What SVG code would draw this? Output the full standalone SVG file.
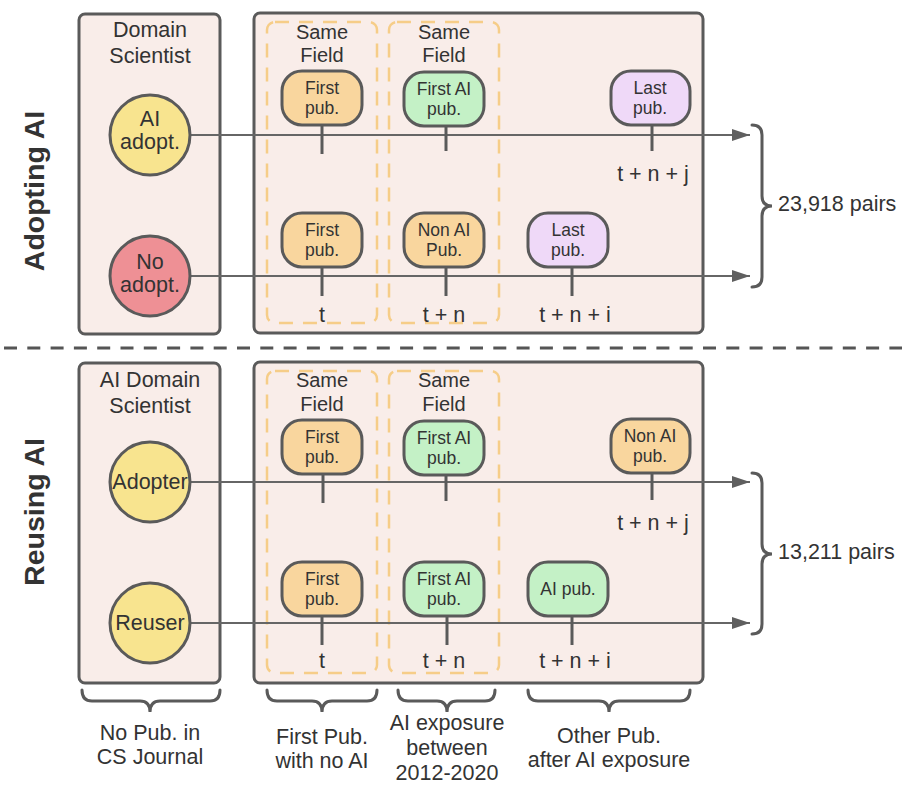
<svg xmlns="http://www.w3.org/2000/svg" width="902" height="786" viewBox="0 0 902 786">
<defs>
<style>
text{font-family:"Liberation Sans",Arial,sans-serif;fill:#333;text-anchor:middle}
.panel{fill:#f9ede9;stroke:#5a5a5a;stroke-width:3}
.dbox{fill:none;stroke:#f6cd88;stroke-width:2.5;stroke-dasharray:14 10}
.circ{stroke:#5a5a5a;stroke-width:3}
.node{stroke:#5a5a5a;stroke-width:3}
.orange{fill:#f9d69e}
.green{fill:#c4f1c6}
.purple{fill:#efd9f8}
.yellow{fill:#f8e48f}
.red{fill:#ee9095}
.t22{font-size:21.5px}
.t20{font-size:20px}
.t17{font-size:17.5px}
.side{font-size:28.5px;font-weight:bold;fill:#333}
.conn{stroke:#666;stroke-width:2;fill:none}
.stem{stroke:#5a5a5a;stroke-width:3}
.brace{stroke:#5a5a5a;stroke-width:3;fill:none;stroke-linecap:round}
</style>
<marker id="ah" markerWidth="18" markerHeight="12" refX="18" refY="6" orient="auto" markerUnits="userSpaceOnUse">
<path d="M0,0 L18,6 L0,12 Z" fill="#5f5f5f"/>
</marker>
</defs>
<rect width="902" height="786" fill="#ffffff"/>

<!-- side labels -->
<text class="side" transform="translate(44,191) rotate(-90)">Adopting AI</text>
<text class="side" transform="translate(44,512) rotate(-90)">Reusing AI</text>

<!-- separator -->
<line x1="4" y1="348" x2="902" y2="348" stroke="#555" stroke-width="3" stroke-dasharray="13 10.3"/>

<!-- panels top -->
<g id="panel-top-left">
<rect class="panel" x="79" y="14" width="141" height="320" rx="6"/>
<text class="t22" x="150" y="37">Domain</text>
<text class="t22" x="150" y="63">Scientist</text>
</g>
<g id="panel-top-right">
<rect class="panel" x="254" y="13" width="449" height="320" rx="6"/>
<rect class="dbox" x="267" y="22" width="110" height="301" rx="8"/>
<rect class="dbox" x="389" y="22" width="110" height="301" rx="8"/>
<text class="t20" x="322" y="39">Same</text>
<text class="t20" x="322" y="62">Field</text>
<text class="t20" x="444" y="39">Same</text>
<text class="t20" x="444" y="62">Field</text>
</g>

<!-- panels bottom -->
<g id="panel-bottom-left">
<rect class="panel" x="79" y="363" width="141" height="320" rx="6"/>
<text class="t22" x="150" y="387">AI Domain</text>
<text class="t22" x="150" y="413">Scientist</text>
</g>
<g id="panel-bottom-right">
<rect class="panel" x="254" y="362" width="449" height="321" rx="6"/>
<rect class="dbox" x="267" y="371" width="110" height="302" rx="8"/>
<rect class="dbox" x="389" y="371" width="110" height="302" rx="8"/>
<text class="t20" x="322" y="387">Same</text>
<text class="t20" x="322" y="411">Field</text>
<text class="t20" x="444" y="387">Same</text>
<text class="t20" x="444" y="411">Field</text>
</g>

<!-- connectors -->
<g id="connectors">
<line class="conn" x1="190" y1="135" x2="750" y2="135" marker-end="url(#ah)"/>
<line class="conn" x1="190" y1="276" x2="750" y2="276" marker-end="url(#ah)"/>
<line class="conn" x1="190" y1="482" x2="750" y2="482" marker-end="url(#ah)"/>
<line class="conn" x1="190" y1="623" x2="750" y2="623" marker-end="url(#ah)"/>
<line class="stem" x1="322" y1="125" x2="322" y2="154"/>
<line class="stem" x1="446" y1="126" x2="446" y2="151"/>
<line class="stem" x1="652" y1="125" x2="652" y2="151"/>
<line class="stem" x1="322" y1="267" x2="322" y2="296"/>
<line class="stem" x1="446" y1="267" x2="446" y2="296"/>
<line class="stem" x1="572" y1="267" x2="572" y2="296"/>
<line class="stem" x1="323" y1="474" x2="323" y2="503"/>
<line class="stem" x1="446" y1="475" x2="446" y2="501"/>
<line class="stem" x1="652" y1="473" x2="652" y2="500"/>
<line class="stem" x1="322" y1="616" x2="322" y2="645"/>
<line class="stem" x1="447" y1="616" x2="447" y2="645"/>
<line class="stem" x1="572" y1="616" x2="572" y2="645"/>
</g>

<!-- circles -->
<g id="ai-adopt"><circle class="circ yellow" cx="150" cy="135" r="40"/>
<text class="t22" x="150" y="126">AI</text><text class="t22" x="150" y="149">adopt.</text></g>
<g id="no-adopt"><circle class="circ red" cx="150" cy="276" r="40"/>
<text class="t22" x="150" y="269">No</text><text class="t22" x="150" y="292">adopt.</text></g>
<g id="adopter"><circle class="circ yellow" cx="150" cy="482" r="40"/>
<text class="t22" x="150" y="489">Adopter</text></g>
<g id="reuser"><circle class="circ yellow" cx="150" cy="623" r="40"/>
<text class="t22" x="150" y="630">Reuser</text></g>

<!-- top nodes -->
<g id="t-first1"><rect class="node orange" x="282" y="71" width="80" height="54" rx="20"/>
<text class="t17" x="322" y="94">First</text><text class="t17" x="322" y="114">pub.</text></g>
<g id="t-firstai"><rect class="node green" x="404" y="72" width="80" height="54" rx="20"/>
<text class="t17" x="444" y="95">First AI</text><text class="t17" x="444" y="115">pub.</text></g>
<g id="t-last1"><rect class="node purple" x="611" y="71" width="79" height="54" rx="20"/>
<text class="t17" x="650" y="94">Last</text><text class="t17" x="650" y="114">pub.</text></g>
<g id="t-first2"><rect class="node orange" x="282" y="213" width="80" height="54" rx="20"/>
<text class="t17" x="322" y="236">First</text><text class="t17" x="322" y="256">pub.</text></g>
<g id="t-nonai"><rect class="node orange" x="404" y="213" width="80" height="54" rx="20"/>
<text class="t17" x="444" y="236">Non AI</text><text class="t17" x="444" y="256">Pub.</text></g>
<g id="t-last2"><rect class="node purple" x="528" y="213" width="80" height="54" rx="20"/>
<text class="t17" x="568" y="236">Last</text><text class="t17" x="568" y="256">pub.</text></g>
<text class="t22" x="653" y="181">t + n + j</text>
<text class="t22" x="322" y="322">t</text>
<text class="t22" x="444" y="322">t + n</text>
<text class="t22" x="575" y="322">t + n + i</text>

<!-- bottom nodes -->
<g id="b-first1"><rect class="node orange" x="282" y="420" width="80" height="54" rx="20"/>
<text class="t17" x="322" y="443">First</text><text class="t17" x="322" y="463">pub.</text></g>
<g id="b-firstai1"><rect class="node green" x="404" y="421" width="80" height="54" rx="20"/>
<text class="t17" x="444" y="444">First AI</text><text class="t17" x="444" y="464">pub.</text></g>
<g id="b-nonai"><rect class="node orange" x="611" y="419" width="79" height="54" rx="20"/>
<text class="t17" x="650" y="442">Non AI</text><text class="t17" x="650" y="462">pub.</text></g>
<g id="b-first2"><rect class="node orange" x="282" y="562" width="80" height="54" rx="20"/>
<text class="t17" x="322" y="585">First</text><text class="t17" x="322" y="605">pub.</text></g>
<g id="b-firstai2"><rect class="node green" x="404" y="562" width="80" height="54" rx="20"/>
<text class="t17" x="444" y="585">First AI</text><text class="t17" x="444" y="605">pub.</text></g>
<g id="b-aipub"><rect class="node green" x="528" y="562" width="80" height="54" rx="20"/>
<text class="t17" x="568" y="595">AI pub.</text></g>
<text class="t22" x="653" y="530">t + n + j</text>
<text class="t22" x="322" y="668">t</text>
<text class="t22" x="444" y="668">t + n</text>
<text class="t22" x="575" y="668">t + n + i</text>

<!-- right braces -->
<g id="brace-top">
<path class="brace" d="M752,125 Q762,125 762,135 L762,196 Q762,206 772,206 Q762,206 762,216 L762,277 Q762,287 752,287"/>
<text class="t22" x="778" y="211" style="text-anchor:start">23,918 pairs</text>
</g>
<g id="brace-bottom">
<path class="brace" d="M752,473 Q762,473 762,483 L762,544 Q762,554 772,554 Q762,554 762,564 L762,624 Q762,634 752,634"/>
<text class="t22" x="778" y="559" style="text-anchor:start">13,211 pairs</text>
</g>

<!-- bottom braces -->
<g id="brace-nopub">
<path class="brace" d="M82,690 Q82,701 92,701 L140,701 Q150,701 150,712 Q150,701 160,701 L210,701 Q220,701 220,690"/>
<text class="t22" x="150" y="740">No Pub. in</text>
<text class="t22" x="150" y="764">CS Journal</text>
</g>
<g id="brace-firstpub">
<path class="brace" d="M267,690 Q267,701 277,701 L312,701 Q322,701 322,712 Q322,701 332,701 L367,701 Q377,701 377,690"/>
<text class="t22" x="322" y="744">First Pub.</text>
<text class="t22" x="322" y="768">with no AI</text>
</g>
<g id="brace-exposure">
<path class="brace" d="M398,690 Q398,701 408,701 L437,701 Q447,701 447,712 Q447,701 457,701 L485,701 Q495,701 495,690"/>
<text class="t22" x="447" y="730">AI exposure</text>
<text class="t22" x="447" y="755">between</text>
<text class="t22" x="447" y="780">2012-2020</text>
</g>
<g id="brace-other">
<path class="brace" d="M528,690 Q528,701 538,701 L599,701 Q609,701 609,712 Q609,701 619,701 L680,701 Q690,701 690,690"/>
<text class="t22" x="609" y="743">Other Pub.</text>
<text class="t22" x="609" y="767">after AI exposure</text>
</g>
</svg>
